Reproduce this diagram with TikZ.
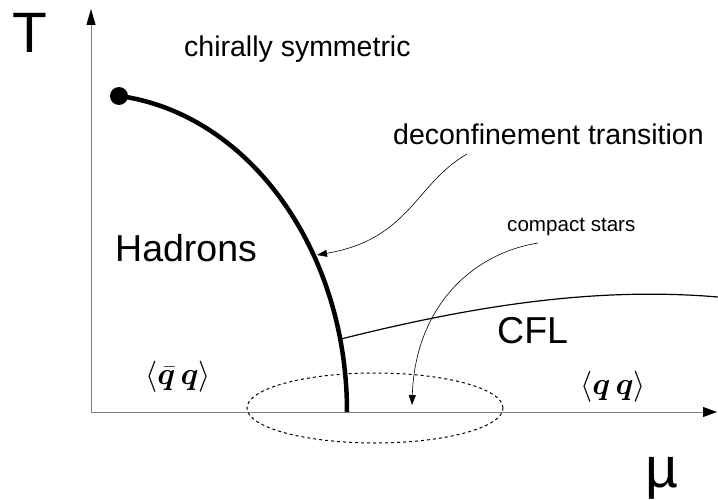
\documentclass[tikz,border=0pt]{standalone}
\usepackage{fontspec}
\setmainfont{Liberation Sans}
\usepackage{amsmath}
\usepackage{bm}
\usetikzlibrary{arrows.meta, positioning}
\tikzset{
  axis/.style={draw=black!50, line width=1pt, {Triangle[length=16pt,width=9pt,black]}-{Triangle[length=14pt,width=10pt,black]}},
  phase/.style={line width=4.5pt},
  crossover/.style={line width=1.2pt},
  pointer/.style={line width=0.6pt, -{Triangle[length=10pt,width=7pt]}},
  starsring/.style={line width=1pt, dash pattern=on 3pt off 3pt},
  axislabel/.style={inner sep=0pt, anchor=base west, font=\fontsize{57}{60}\selectfont},
  region/.style={inner sep=0pt, anchor=base west, font=\fontsize{37.5}{40}\selectfont},
  note/.style={inner sep=0pt, anchor=base west, font=\fontsize{28.5}{32}\selectfont},
  condensate/.style={inner sep=0pt, font=\fontsize{24.88}{28}\selectfont, scale=1.25, transform shape}
}

\begin{document}
\begin{tikzpicture}[x=1pt, y=1pt]
  \useasboundingbox (0,0) rectangle (718,499);
  % axes
  \coordinate (O) at (91,87);
  \coordinate (Ttop) at (91,490);
  \coordinate (Mend) at (717,87);
  \draw[axis] (Ttop) -- (O) -- (Mend);
  \node[axislabel] (T) at (12,446) {T};
  \node[axislabel] (mu) at (645,12) {µ};

  % transition lines
  \draw[phase] (347,87) arc[start angle=0, end angle=83.7, x radius=256, y radius=318];
  \node[circle, fill=black, inner sep=0pt, minimum size=18pt] (cep) at (119,403) {};
  \coordinate (cflstart) at (341,160);
  \coordinate (cflend) at (718,202);
  \draw[crossover] (cflstart) .. controls (480,195) and (600,212) .. (cflend);

  % regions
  \node[note] (chiral) at (184,442) {chirally symmetric};
  \node[region] (hadrons) at (115,237) {Hadrons};
  \node[region] (cfl) at (497,156) {CFL};
  \node[condensate] (qbarq) at (178,122) {$\langle\bar{\bm{q}}\,\bm{q}\rangle$};
  \node[condensate] (qq) at (613,112) {$\langle\bm{q}\,\bm{q}\rangle$};

  % annotations
  \node[note] (deconf) at (393,354) {deconfinement transition};
  \coordinate (decfrom) at (467,345);
  \coordinate (decto) at (317,244);
  \draw[pointer] (decfrom) .. controls (415,315) and (410,260) .. (decto);
  \node[note, font=\fontsize{20.6}{24}\selectfont] (stars) at (507,267) {compact stars};
  \coordinate (starsfrom) at (538,256);
  \coordinate (starsto) at (412,94);
  \draw[pointer] (starsfrom) .. controls (470,245) and (415,190) .. (starsto);
  \draw[starsring] (375,91) ellipse[x radius=128, y radius=35];
\end{tikzpicture}
\end{document}
